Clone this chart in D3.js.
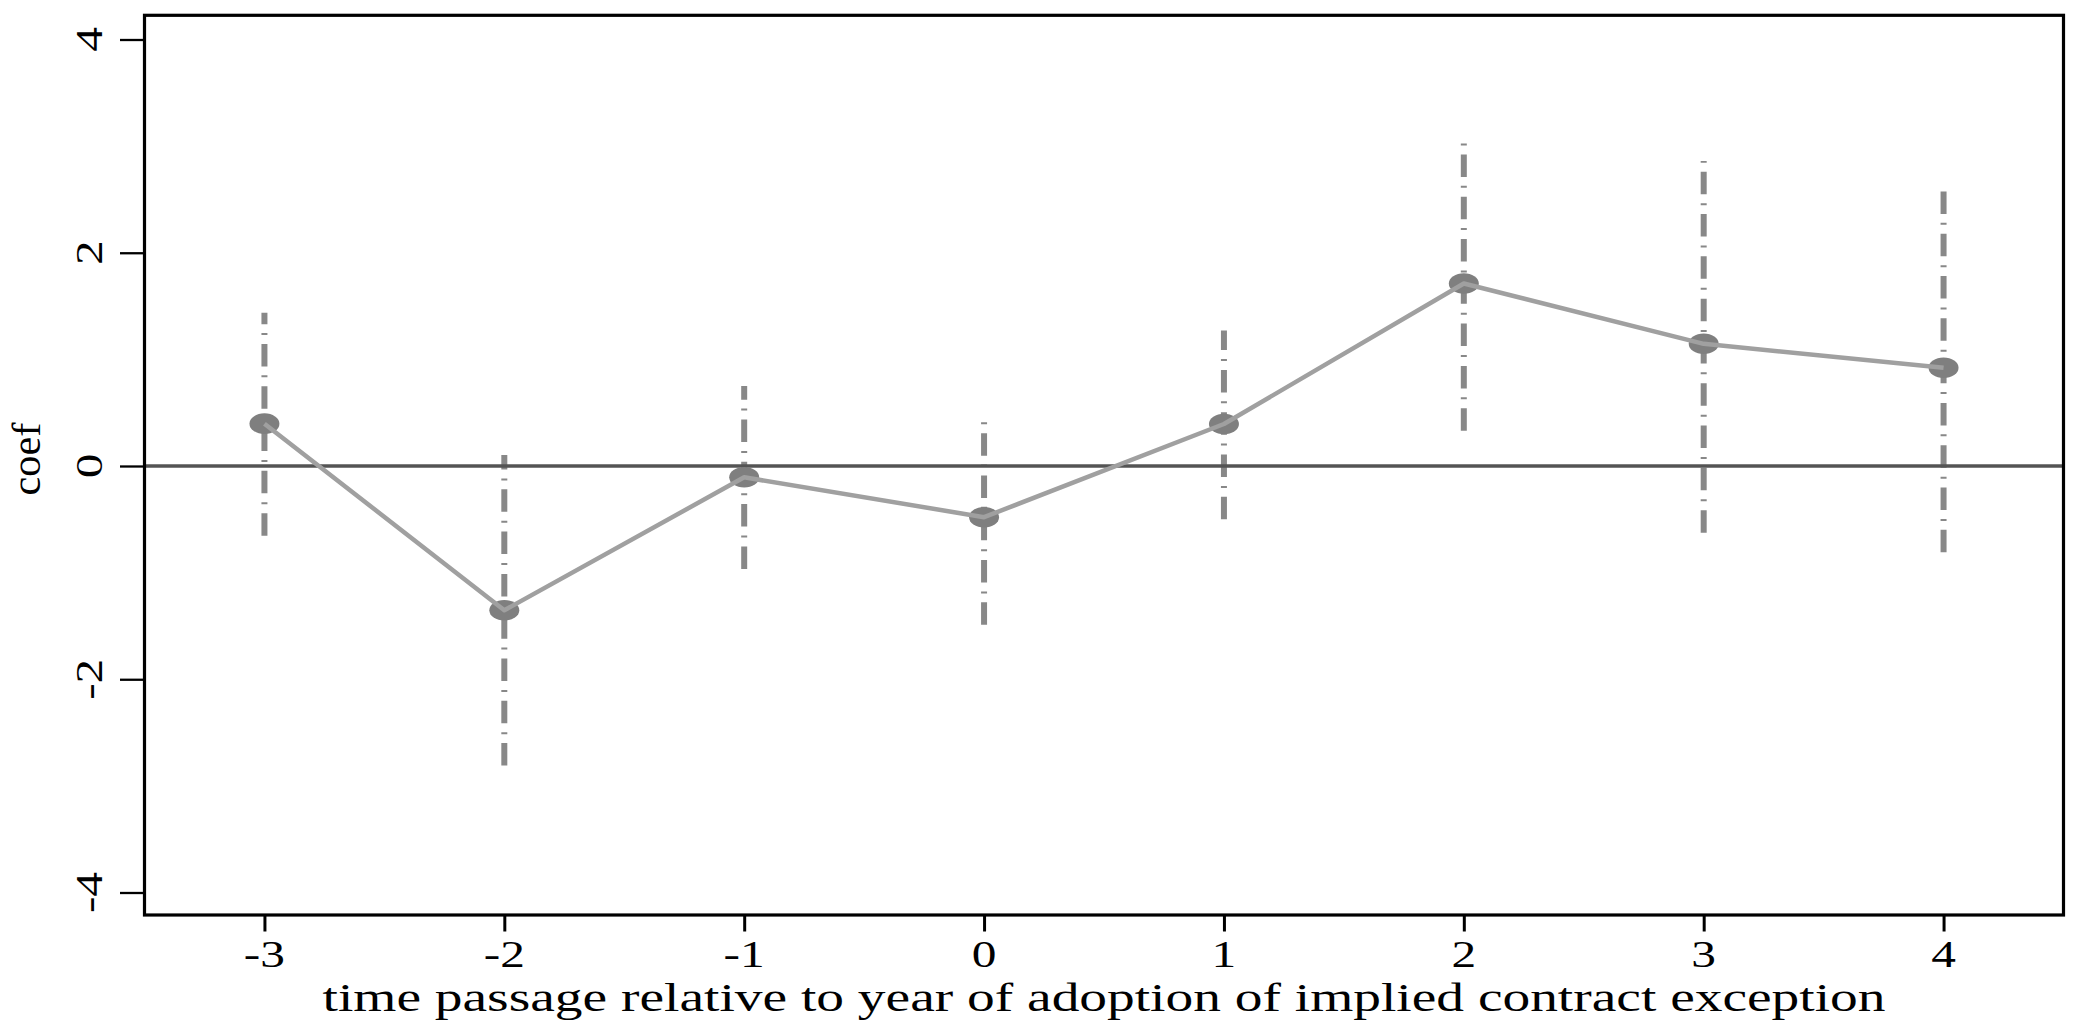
<!DOCTYPE html>
<html>
<head>
<meta charset="utf-8">
<script src="https://cdn.jsdelivr.net/npm/d3@7"></script>
<style>
  html, body { margin: 0; padding: 0; background: #ffffff; }
  svg { display: block; }
  text { font-family: "Liberation Serif", "Times New Roman", Times, serif; fill: #000; }
</style>
</head>
<body>
<svg id="chart" width="2077" height="1028"></svg>
<script>
// ---- data ----
const periods = [-3, -2, -1, 0, 1, 2, 3, 4];
const coef    = [0.397, -1.353, -0.106, -0.48, 0.394, 1.712, 1.146, 0.921];
const ciLow   = [-0.653, -2.81, -0.965, -1.49, -0.50, 0.331, -0.625, -0.81];
const ciHigh  = [1.437, 0.103, 0.75, 0.41, 1.27, 3.024, 2.86, 2.577];
const yTicks  = [-4, -2, 0, 2, 4];
const xTicks  = [-3, -2, -1, 0, 1, 2, 3, 4];
const xTitle  = "time passage relative to year of adoption of implied contract exception";
const yTitle  = "coef";

// ---- layout ----
const svg = d3.select("#chart");
const FONT = "Liberation Serif, Times New Roman, Times, serif";
const frame = { left: 144.5, right: 2063.5, top: 15.3, bottom: 915 };

const x = d3.scaleLinear().domain([-3.5, 4.5]).range([frame.left, frame.right]);
const y = d3.scaleLinear().domain([-4, 4]).range([892.5, 39.5]);

const rows = periods.map((p, i) => ({ p, b: coef[i], lo: ciLow[i], hi: ciHigh[i] }));

// confidence intervals (dash-dot spikes drawn from low to high)
const ciLine = d3.line().x(d => d[0]).y(d => d[1]);
svg.append("g").selectAll("path").data(rows).join("path")
  .attr("d", d => ciLine([[x(d.p), y(d.lo)], [x(d.p), y(d.hi)]]))
  .attr("stroke", "#888888")
  .attr("stroke-width", 6)
  .attr("stroke-dasharray", "22.5 8.9 2 8.9")
  .attr("fill", "none");

// zero reference line
svg.append("line")
  .attr("x1", frame.left).attr("x2", frame.right)
  .attr("y1", y(0)).attr("y2", y(0))
  .attr("stroke", "#545454").attr("stroke-width", 3.5);

// markers
svg.append("g").selectAll("ellipse").data(rows).join("ellipse")
  .attr("cx", d => x(d.p)).attr("cy", d => y(d.b))
  .attr("rx", 15).attr("ry", 10.3)
  .attr("fill", "#7f7f7f");

// connecting line
svg.append("path")
  .datum(rows)
  .attr("d", d3.line().x(d => x(d.p)).y(d => y(d.b)))
  .attr("fill", "none")
  .attr("stroke", "#a0a0a0")
  .attr("stroke-width", 4.5)
  .attr("stroke-linejoin", "round");

// frame
svg.append("rect")
  .attr("x", frame.left).attr("y", frame.top)
  .attr("width", frame.right - frame.left).attr("height", frame.bottom - frame.top)
  .attr("fill", "none").attr("stroke", "#000").attr("stroke-width", 3.2);

// x axis ticks
const xAxis = d3.axisBottom(x).tickValues(xTicks).tickSize(16.5).tickSizeOuter(0).tickFormat("");
const gx = svg.append("g").attr("transform", `translate(0,${frame.bottom})`).call(xAxis);
gx.select(".domain").remove();
gx.selectAll(".tick line").attr("stroke", "#000").attr("stroke-width", 3);

// y axis ticks
const yAxis = d3.axisLeft(y).tickValues(yTicks).tickSize(24.5).tickSizeOuter(0).tickFormat("");
const gy = svg.append("g").attr("transform", `translate(${frame.left},0)`).call(yAxis);
gy.select(".domain").remove();
gy.selectAll(".tick line").attr("stroke", "#000").attr("stroke-width", 2.3);

// x tick labels (stretched along baseline)
const stretch = 1.3;
svg.append("g").selectAll("text").data(xTicks).join("text")
  .attr("transform", d => `translate(${x(d)},967) scale(${stretch},1)`)
  .attr("text-anchor", "middle")
  .attr("font-family", FONT)
  .attr("font-size", 38)
  .text(d => d);

// y tick labels (rotated)
svg.append("g").selectAll("text").data(yTicks).join("text")
  .attr("transform", d => `translate(102,${y(d)}) rotate(-90) scale(${stretch},1)`)
  .attr("text-anchor", "middle")
  .attr("font-family", FONT)
  .attr("font-size", 38)
  .text(d => d);

// axis titles
svg.append("text")
  .attr("x", (frame.left + frame.right) / 2).attr("y", 1011)
  .attr("text-anchor", "middle")
  .attr("font-family", FONT)
  .attr("font-size", 39)
  .attr("textLength", 1563).attr("lengthAdjust", "spacingAndGlyphs")
  .text(xTitle);

svg.append("text")
  .attr("transform", `translate(40,459) rotate(-90)`)
  .attr("text-anchor", "middle")
  .attr("font-family", FONT)
  .attr("font-size", 39)
  .attr("textLength", 73).attr("lengthAdjust", "spacingAndGlyphs")
  .text(yTitle);
</script>
</body>
</html>
